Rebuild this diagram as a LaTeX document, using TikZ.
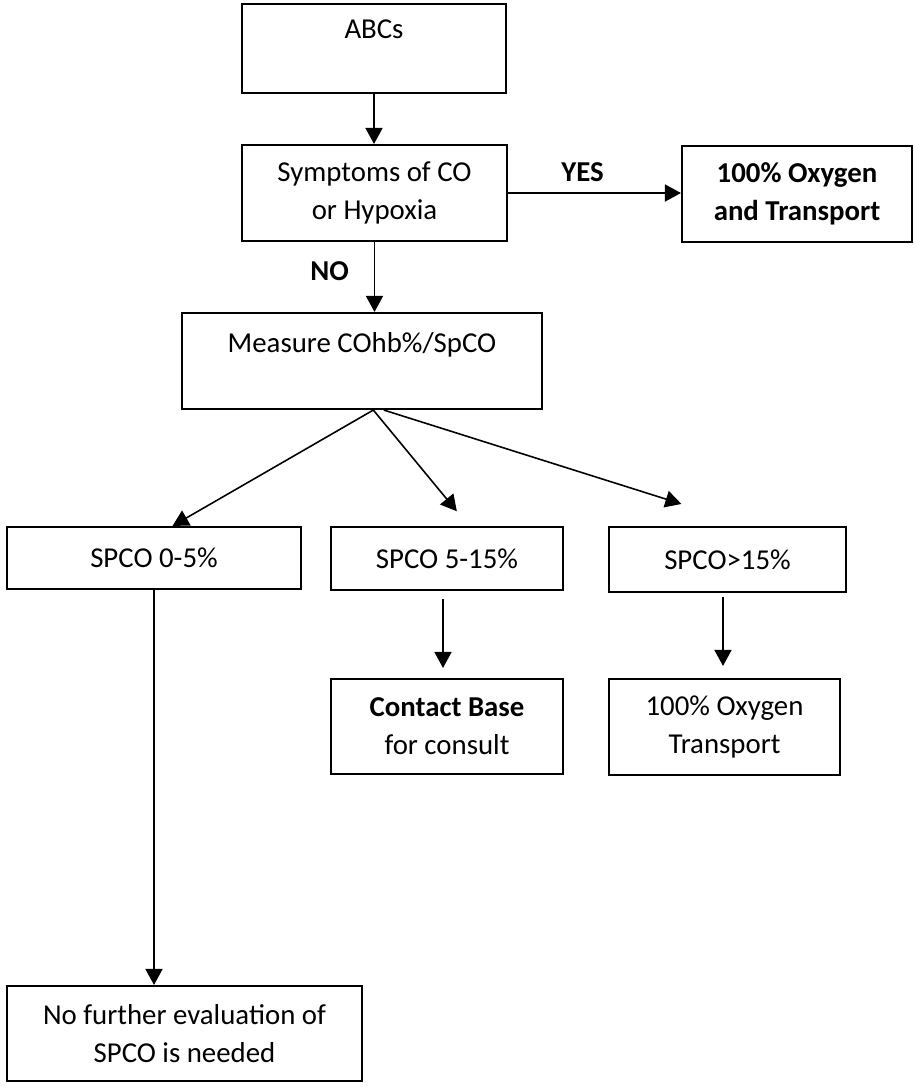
\documentclass[tikz,border=0pt]{standalone}
\usepackage{fontspec}
\setmainfont{Carlito}
\usetikzlibrary{arrows.meta}

\begin{document}
\begin{tikzpicture}[
        box/.style={draw=black, line width=0.6pt, inner sep=0pt, align=center,
            font=\fontsize{8.2pt}{10.8pt}\selectfont},
        tag/.style={inner sep=0pt, font=\fontsize{8.2pt}{10.8pt}\selectfont\bfseries},
        link/.style={->, line width=0.45pt},
        >={Triangle[width=0.17cm,length=0.16cm]}
    ]
        \useasboundingbox (0,0) rectangle (9.14,-10.88);

        % Draw the boxes of the first rows
        \node[box, minimum width=2.64cm, minimum height=0.89cm] (abc) at (3.74,-0.485) {ABCs\\\mbox{}};
        \node[box, minimum width=2.65cm, minimum height=0.96cm] (sym) at (3.745,-1.93) {Symptoms of CO\\or Hypoxia};
        \node[box, minimum width=2.30cm, minimum height=0.96cm] (oxy) at (7.97,-1.94) {\textbf{100\% Oxygen}\\\textbf{and Transport}};
        \node[box, minimum width=3.60cm, minimum height=0.96cm] (meas) at (3.62,-3.61) {Measure COhb\%/SpCO\\\mbox{}};

        % Labels for the answers
        \node[tag] (yes) at (5.825,-1.725) {YES};
        \node[tag] (no) at (3.295,-2.71) {NO};

        % Draw the SPCO levels
        \node[box, minimum width=2.94cm, minimum height=0.62cm] (low) at (1.54,-5.58) {SPCO 0-5\%};
        \node[box, minimum width=2.32cm, minimum height=0.63cm] (mid) at (4.47,-5.585) {SPCO 5-15\%};
        \node[box, minimum width=2.37cm, minimum height=0.65cm] (hi) at (7.275,-5.595) {SPCO>15\%};

        % What to do for each level
        \node[box, minimum width=2.32cm, minimum height=0.95cm] (ctc) at (4.47,-7.265) {\textbf{Contact Base}\\for consult};
        \node[box, minimum width=2.31cm, minimum height=0.96cm] (hox) at (7.245,-7.27) {100\% Oxygen\\Transport};
        \node[box, minimum width=3.55cm, minimum height=0.95cm] (nf) at (1.845,-10.335) {No further evaluation of\\SPCO is needed};

        % Draw the arrows
        \draw[link] (abc.south) -- (abc.south |- sym.north);
        %YES
        \draw[link] (sym.east) -- (sym.east -| oxy.west);
        %NO
        \draw[link] (sym.south) -- (sym.south |- meas.north);
        %fan out
        \draw[link] (meas.-77) -- (low.60);
        \draw[link, shorten >=0.19cm] (meas.-77) -- (mid.56);
        \draw[link, shorten >=0.73cm] (meas.-66) -- (hi.55);
        %down
        \draw[link, shorten <=0.08cm, shorten >=0.10cm] ([xshift=-0.04cm]mid.south) -- ([xshift=-0.04cm]ctc.north);
        \draw[link, shorten <=0.04cm, shorten >=0.12cm] ([xshift=-0.045cm]hi.south) -- ([xshift=-0.045cm]hi.south |- hox.north);
        \draw[link] (low.south) -- (low.south |- nf.north);
    \end{tikzpicture}
\end{document}
